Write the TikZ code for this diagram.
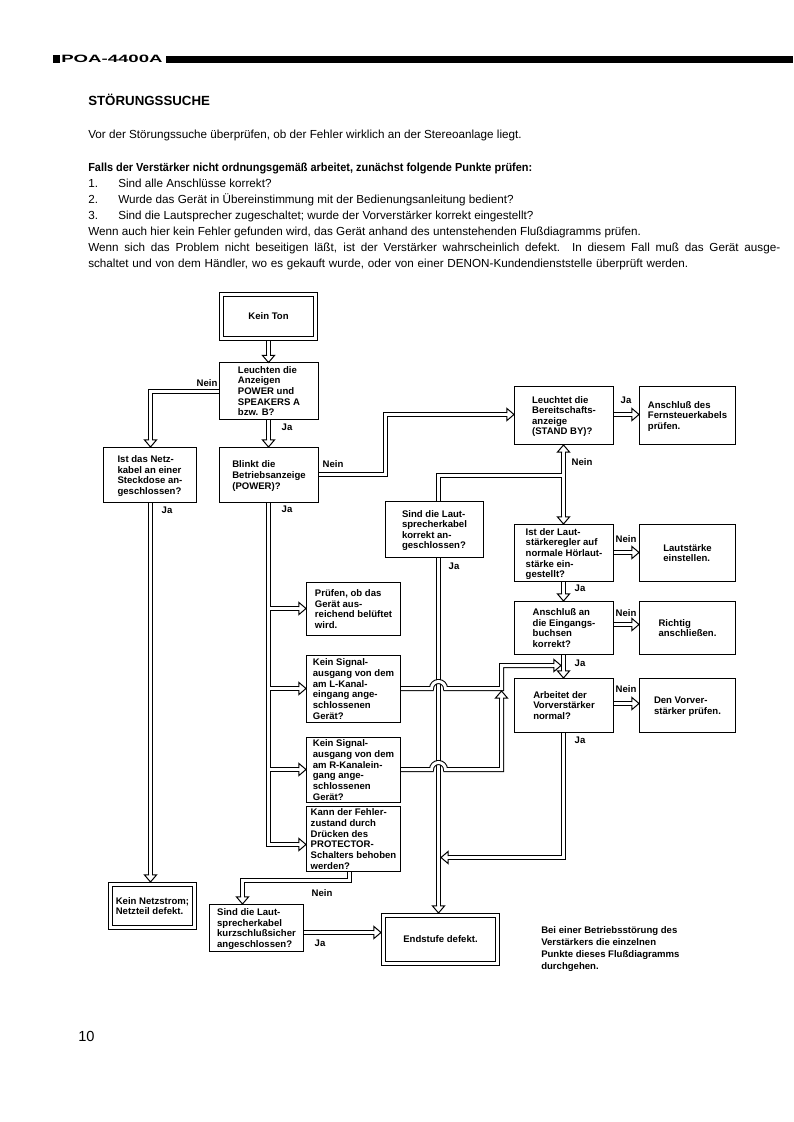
\documentclass[tikz,border=0pt]{standalone}
\usepackage{fontspec}
\setmainfont{Liberation Sans}
\usetikzlibrary{arrows.meta}
\newcommand\bodyfnt{\fontsize{8.8}{12}\selectfont}
\newcommand\boxfnt{\fontsize{7.2}{8}\selectfont\bfseries}
\pgfdeclarearrow{
  name = HoHead,
  setup code = {
    \pgfarrowssettipend{0pt}
    \pgfarrowssetlineend{-5.4bp}
    \pgfarrowssetbackend{-5.4bp}
    \pgfarrowshullpoint{0pt}{0pt}
    \pgfarrowsupperhullpoint{-5.4bp}{4.6bp}
  },
  drawing code = {
    \pgfsetdash{}{0pt}
    \pgfsetlinewidth{0.75bp}
    \pgfsetinnerlinewidth{0pt}
    \pgfsetmiterjoin
    \pgfsetbuttcap
    \pgfpathmoveto{\pgfqpoint{-5.4bp}{1.125bp}}
    \pgfpathlineto{\pgfqpoint{-5.4bp}{4.6bp}}
    \pgfpathlineto{\pgfqpoint{0bp}{0bp}}
    \pgfpathlineto{\pgfqpoint{-5.4bp}{-4.6bp}}
    \pgfpathlineto{\pgfqpoint{-5.4bp}{-1.125bp}}
    \pgfusepathqstroke
  }
}
\begin{document}
\begin{tikzpicture}[x=0.75bp,y=-0.75bp,
  box/.style={draw,line width=0.75bp,inner sep=0pt,align=left,font=\boxfnt,text depth=0pt},
  bx/.style n args={4}{at={(#1,#2)},minimum width=#3*0.75bp,minimum height=#4*0.75bp},
  dbox/.style={box,double,double distance=2.25bp,outer sep=2.5*0.75bp},
  dl/.style={line width=0.75bp,double,double distance=2.25bp},
  ar/.style={dl,-{HoHead}},
  lab/.style={font=\boxfnt,inner sep=0pt},
  txt/.style={font=\bodyfnt,inner sep=0pt,anchor=base west},
]
\fill[white] (0,0) rectangle (793,1122);
\useasboundingbox (0,0) rectangle (793,1122);

% header
\fill (53,55) rectangle (60,63);
\node[anchor=base west,inner sep=0pt,font=\fontsize{8}{8}\selectfont\bfseries] (hd) at (61,63) {\scalebox{1.75}[1]{POA-4400A}};
\fill (166,56) rectangle (793,63);

% introductory text
\node[txt,font=\fontsize{10}{11}\selectfont\bfseries] (title) at (88,106) {STÖRUNGSSUCHE};
\node[txt] (t1) at (88,139) {Vor der Störungssuche überprüfen, ob der Fehler wirklich an der Stereoanlage liegt.};
\node[txt,font=\bodyfnt\bfseries] (t2) at (88,172) {\scalebox{0.935}[1]{Falls der Verstärker nicht ordnungsgemäß arbeitet, zunächst folgende Punkte prüfen:}};
\node[txt] (n1) at (88,188) {1.};
\node[txt] (i1) at (118,188) {Sind alle Anschlüsse korrekt?};
\node[txt] (n2) at (88,204) {2.};
\node[txt] (i2) at (118,204) {Wurde das Gerät in Übereinstimmung mit der Bedienungsanleitung bedient?};
\node[txt] (n3) at (88,220) {3.};
\node[txt] (i3) at (118,220) {Sind die Lautsprecher zugeschaltet; wurde der Vorverstärker korrekt eingestellt?};
\node[txt] (t3) at (88,236) {Wenn auch hier kein Fehler gefunden wird, das Gerät anhand des untenstehenden Flußdiagramms prüfen.};
\node[txt] (t4) at (88,252) {\makebox[519bp][s]{Wenn sich das Problem nicht beseitigen läßt, ist der Verstärker wahrscheinlich defekt. In diesem Fall muß das Gerät ausge-}};
\node[txt] (t5) at (88,268) {\makebox[450bp][s]{schaltet und von dem Händler, wo es gekauft wurde, oder von einer DENON-Kundendienststelle überprüft werden.}};

% boxes
\node[dbox,bx={268.5}{316.5}{94}{44}] (kt) {Kein Ton};
\node[box,bx={269}{391}{99}{56}] (leuchten) {Leuchten die\\Anzeigen\\POWER und\\SPEAKERS A\\bzw. B?};
\node[box,bx={150}{475}{93}{55}] (netz) {Ist das Netz-\\kabel an einer\\Steckdose an-\\geschlossen?};
\node[box,bx={269}{475}{99}{55}] (blinkt) {Blinkt die\\Betriebsanzeige\\(POWER)?};
\node[box,bx={564}{415.5}{99}{58}] (leuchtet) {Leuchtet die\\Bereitschafts-\\anzeige\\(STAND BY)?};
\node[box,bx={687.5}{415.5}{96}{58}] (fern) {Anschluß des\\Fernsteuerkabels\\prüfen.};
\node[box,bx={434.5}{529.5}{98}{56}] (sind1) {Sind die Laut-\\sprecherkabel\\korrekt an-\\geschlossen?};
\node[box,bx={564}{553}{99}{57}] (laut) {Ist der Laut-\\stärkeregler auf\\normale Hörlaut-\\stärke ein-\\gestellt?};
\node[box,bx={687.5}{553}{96}{57}] (lautE) {Lautstärke\\einstellen.};
\node[box,bx={564}{628}{99}{53}] (anschl) {Anschluß an\\die Eingangs-\\buchsen\\korrekt?};
\node[box,bx={687.5}{628}{96}{53}] (richtig) {Richtig\\anschließen.};
\node[box,bx={564}{705.5}{99}{54}] (arbeitet) {Arbeitet der\\Vorverstärker\\normal?};
\node[box,bx={687.5}{705.5}{96}{54}] (vorver) {Den Vorver-\\stärker prüfen.};
\node[box,bx={353.5}{609}{94}{53}] (pruefen) {Prüfen, ob das\\Gerät aus-\\reichend belüftet\\wird.};
\node[box,bx={353.5}{689}{94}{67}] (lkanal) {Kein Signal-\\ausgang von dem\\am L-Kanal-\\eingang ange-\\schlossenen\\Gerät?};
\node[box,bx={353.5}{770}{94}{65}] (rkanal) {Kein Signal-\\ausgang von dem\\am R-Kanalein-\\gang ange-\\schlossenen\\Gerät?};
\node[box,bx={353.5}{839}{94}{65}] (kann) {Kann der Fehler-\\zustand durch\\Drücken des\\PROTECTOR-\\Schalters behoben\\werden?};
\node[dbox,bx={152.5}{906}{84}{43}] (netzstrom) {Kein Netzstrom;\\Netzteil defekt.};
\node[box,bx={256.5}{928}{94}{47}] (sind2) {Sind die Laut-\\sprecherkabel\\kurzschlußsicher\\angeschlossen?};
\node[dbox,bx={440.5}{939.5}{114}{48}] (endst) {Endstufe defekt.};

\node[anchor=north west,align=left,font=\fontsize{7.2}{9}\selectfont\bfseries,inner sep=0pt] (note) at (541,926) {Bei einer Betriebsstörung des\\Verstärkers die einzelnen\\Punkte dieses Flußdiagramms\\durchgehen.};
\node[anchor=base west,inner sep=0pt,font=\fontsize{11}{11}\selectfont] (pg) at (78,1041) {10};

% helper coordinates (line centres on half pixels)
\coordinate (cA) at (268.5,0);
\coordinate (cN) at (150.5,0);
\coordinate (cV) at (438.5,0);
\coordinate (cR) at (563.5,0);
\coordinate (kx) at (349.5,0);
\coordinate (sx) at (242.5,0);
\coordinate (yL) at (0,391.5);
\coordinate (yB) at (0,474.5);
\coordinate (yT) at (0,414.5);
\coordinate (y1) at (0,552.5);
\coordinate (y2) at (0,624.5);
\coordinate (y3) at (0,703.5);
\coordinate (y4) at (0,932.5);
\coordinate (nb) at (385.5,474.5);
\coordinate (j1) at (563.5,475.5);
\coordinate (b1) at (268.5,608.5);
\coordinate (b2) at (268.5,688.5);
\coordinate (b3) at (268.5,769.5);
\coordinate (k4) at (0,844.5);
\coordinate (e1) at (441,857.5);
\coordinate (e2) at (561,665.5);
\coordinate (e3) at (501.5,691);
\coordinate (kn) at (0,880.5);

% connectors
\draw[ar] (kt.south -| cA) -- (leuchten.north -| cA);
\draw[ar] (leuchten.west |- yL) -| (netz.north -| cN);
\draw[ar] (leuchten.south -| cA) -- (blinkt.north -| cA);
\draw[ar] (blinkt.east |- yB) -- (nb) |- (leuchtet.west |- yT);
\draw[ar] (leuchtet.east |- yT) -- (fern.west |- yT);
\draw[dl] (sind1.north -| cV) |- (j1);
\draw[dl,{HoHead}-{HoHead}] (leuchtet.south -| cR) -- (laut.north -| cR);
\fill[white] (560.9,474) rectangle (562.1,477);
\draw[ar] (sind1.south -| cV) -- (endst.north -| cV);
\draw[ar] (laut.east |- y1) -- (lautE.west |- y1);
\draw[ar] (laut.south -| cR) -- (anschl.north -| cR);
\draw[ar] (anschl.east |- y2) -- (richtig.west |- y2);
\draw[ar] (anschl.south -| cR) -- (arbeitet.north -| cR);
\draw[ar] (arbeitet.east |- y3) -- (vorver.west |- y3);
\draw[ar] (arbeitet.south -| cR) |- (e1);
\draw[ar] (netz.south -| cN) -- (netzstrom.north -| cN);

\draw[ar] (b1) -- (pruefen.west |- b1);
\draw[ar] (b2) -- (lkanal.west |- b2);
\draw[ar] (b3) -- (rkanal.west |- b3);
\draw[ar] (blinkt.south -| cA) |- (kann.west |- k4);
\fill[white] (269.9,607) rectangle (271.1,610);
\fill[white] (269.9,687) rectangle (271.1,690);
\fill[white] (269.9,768) rectangle (271.1,771);

\draw[ar] (lkanal.east |- b2) -- (431.5,688.5) arc[start angle=180,end angle=0,radius=5.25bp] -- (501.5,688.5) |- (e2);
\draw[ar] (rkanal.east |- b3) -- (431.5,769.5) arc[start angle=180,end angle=0,radius=5.25bp] -- (501.5,769.5) -- (e3);

\draw[ar] (kann.south -| kx) -- (kx |- kn) -| (sind2.north -| sx);
\draw[ar] (sind2.east |- y4) -- (endst.west |- y4);

% labels
\node[lab] (l1) at (207,383) {Nein};
\node[lab] (l2) at (287,427) {Ja};
\node[lab] (l3) at (167,510) {Ja};
\node[lab] (l4) at (287,509) {Ja};
\node[lab] (l5) at (333,464) {Nein};
\node[lab] (l6) at (626,400) {Ja};
\node[lab] (l7) at (582,462) {Nein};
\node[lab] (l8) at (454,566) {Ja};
\node[lab] (l9) at (626,539) {Nein};
\node[lab] (l10) at (580,588) {Ja};
\node[lab] (l11) at (626,613) {Nein};
\node[lab] (l12) at (580,663) {Ja};
\node[lab] (l13) at (626,689) {Nein};
\node[lab] (l14) at (580,740) {Ja};
\node[lab] (l15) at (322,893) {Nein};
\node[lab] (l16) at (320,943) {Ja};
\end{tikzpicture}
\end{document}
